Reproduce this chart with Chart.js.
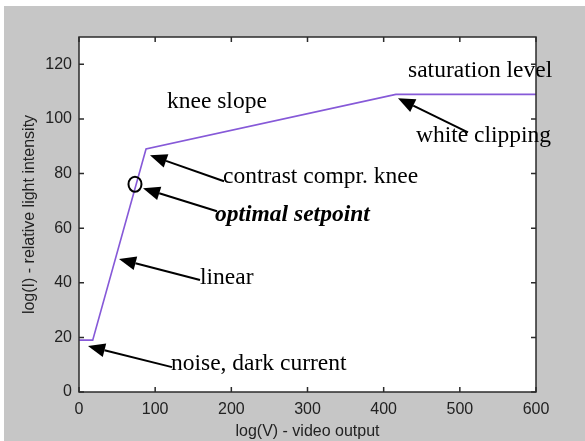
<!DOCTYPE html>
<html>
<head>
<meta charset="utf-8">
<script src="https://cdn.jsdelivr.net/npm/chart.js@4/dist/chart.umd.min.js"></script>
<style>
  html, body { margin: 0; padding: 0; background: #ffffff; }
  #c { display: block; }
</style>
</head>
<body>
<canvas id="c" width="585" height="441"></canvas>
<script>
// Transfer curve: video output vs. relative light intensity (log/log)
const xValues = [0, 18, 88, 416, 600];
const yValues = [19, 19, 89, 109, 109];

const xTicks = [0, 100, 200, 300, 400, 500, 600];
const yTicks = [0, 20, 40, 60, 80, 100, 120];

const xTitle = 'log(V) - video output';
const yTitle = 'log(I) - relative light intensity';

// Callout labels, anchored in data units (left edge, baseline)
const noteTexts = [
  { text: 'knee slope',           x: 115.5, y: 103.9, style: '' },
  { text: 'saturation level',     x: 432.0, y: 115.2, style: '' },
  { text: 'white clipping',       x: 442.4, y: 91.5,  style: '' },
  { text: 'contrast compr. knee', x: 189.0, y: 76.5,  style: '' },
  { text: 'optimal setpoint',     x: 178.6, y: 62.6,  style: 'italic bold ' },
  { text: 'linear',               x: 158.9, y: 39.5,  style: '' },
  { text: 'noise, dark current',  x: 120.8, y: 8.0,   style: '' }
];

// Callout arrows: tail -> tip, in data units
const noteArrows = [
  { x0: 190.4, y0: 77.2, x1: 93.2,  y1: 86.7 },
  { x0: 181.2, y0: 66.2, x1: 84.0,  y1: 74.6 },
  { x0: 158.9, y0: 41.0, x1: 52.5,  y1: 48.7 },
  { x0: 122.1, y0: 9.1,  x1: 11.8,  y1: 16.8 },
  { x0: 510.7, y0: 95.1, x1: 418.8, y1: 107.6 }
];

// Marker ring around the operating point on the curve
const setpoint = { x: 73.5, y: 76.1 };

const GRAY = '#c6c6c6';
const AXIS = '#2b2b2b';
const CURVE = '#8659d8';
const SERIF = '"Liberation Serif", "Times New Roman", serif';
const SANS = '"Liberation Sans", Arial, sans-serif';

const backdrop = {
  id: 'backdrop',
  beforeDraw(chart) {
    const { ctx, width, height, chartArea: a } = chart;
    ctx.save();
    ctx.fillStyle = '#ffffff';
    ctx.fillRect(0, 0, width, height);
    ctx.fillStyle = GRAY;
    ctx.fillRect(4, 6, width - 4, height - 6);
    ctx.fillStyle = '#ffffff';
    ctx.fillRect(a.left, a.top, a.right - a.left, a.bottom - a.top);
    ctx.restore();
  }
};

const frame = {
  id: 'frame',
  afterDatasetsDraw(chart) {
    const { ctx, chartArea: a, scales: { x, y } } = chart;
    const len = 5;
    ctx.save();
    ctx.strokeStyle = AXIS;
    ctx.lineWidth = 1.5;
    ctx.strokeRect(a.left, a.top, a.right - a.left, a.bottom - a.top);
    ctx.beginPath();
    xTicks.forEach(v => {
      const px = x.getPixelForValue(v);
      ctx.moveTo(px, a.bottom); ctx.lineTo(px, a.bottom - len);
      ctx.moveTo(px, a.top);    ctx.lineTo(px, a.top + len);
    });
    yTicks.forEach(v => {
      const py = y.getPixelForValue(v);
      ctx.moveTo(a.left, py);  ctx.lineTo(a.left + len, py);
      ctx.moveTo(a.right, py); ctx.lineTo(a.right - len, py);
    });
    ctx.stroke();
    ctx.restore();
  }
};

function drawArrow(ctx, x0, y0, x1, y1) {
  const ang = Math.atan2(y1 - y0, x1 - x0);
  const headLen = 17, headHalf = 7;
  const bx = x1 - headLen * Math.cos(ang);
  const by = y1 - headLen * Math.sin(ang);
  ctx.beginPath();
  ctx.moveTo(x0, y0);
  ctx.lineTo(bx, by);
  ctx.stroke();
  ctx.beginPath();
  ctx.moveTo(x1, y1);
  ctx.lineTo(bx + headHalf * Math.sin(ang), by - headHalf * Math.cos(ang));
  ctx.lineTo(bx - headHalf * Math.sin(ang), by + headHalf * Math.cos(ang));
  ctx.closePath();
  ctx.fill();
}

const callouts = {
  id: 'callouts',
  afterDraw(chart) {
    const { ctx, scales: { x, y } } = chart;
    ctx.save();
    ctx.strokeStyle = '#000000';
    ctx.fillStyle = '#000000';
    ctx.lineWidth = 2;
    noteArrows.forEach(a => drawArrow(ctx,
      x.getPixelForValue(a.x0), y.getPixelForValue(a.y0),
      x.getPixelForValue(a.x1), y.getPixelForValue(a.y1)));

    ctx.beginPath();
    ctx.ellipse(x.getPixelForValue(setpoint.x), y.getPixelForValue(setpoint.y), 6.5, 7.5, 0, 0, Math.PI * 2);
    ctx.stroke();

    ctx.textAlign = 'left';
    ctx.textBaseline = 'alphabetic';
    noteTexts.forEach(t => {
      ctx.font = t.style + '23.5px ' + SERIF;
      ctx.fillText(t.text, x.getPixelForValue(t.x), y.getPixelForValue(t.y));
    });
    ctx.restore();
  }
};

new Chart(document.getElementById('c'), {
  type: 'scatter',
  data: {
    datasets: [{
      data: xValues.map((v, i) => ({ x: v, y: yValues[i] })),
      showLine: true,
      borderColor: CURVE,
      borderWidth: 1.6,
      pointRadius: 0,
      tension: 0,
      fill: false
    }]
  },
  options: {
    responsive: false,
    animation: false,
    devicePixelRatio: 1,
    layout: { padding: { left: 4, top: 37, right: 49, bottom: 0 } },
    plugins: { legend: { display: false }, tooltip: { enabled: false } },
    scales: {
      x: {
        type: 'linear',
        min: 0, max: 600,
        afterBuildTicks(scale) { scale.ticks = xTicks.map(v => ({ value: v })); },
        afterFit(scale) { scale.height = 49; },
        grid: { display: false, drawTicks: false },
        border: { display: false },
        ticks: { padding: 8, color: '#222222', font: { family: SANS, size: 16 } },
        title: { display: true, text: xTitle, color: '#222222', padding: { top: 0, bottom: 0 }, font: { family: SANS, size: 16 } }
      },
      y: {
        type: 'linear',
        min: 0, max: 130,
        afterBuildTicks(scale) { scale.ticks = yTicks.map(v => ({ value: v })); },
        afterFit(scale) { scale.width = 75; },
        grid: { display: false, drawTicks: false },
        border: { display: false },
        ticks: { padding: 7, color: '#222222', font: { family: SANS, size: 16 } },
        title: { display: true, text: yTitle, color: '#222222', padding: { top: 16, bottom: 0 }, font: { family: SANS, size: 16 } }
      }
    }
  },
  plugins: [backdrop, frame, callouts]
});
</script>
</body>
</html>
